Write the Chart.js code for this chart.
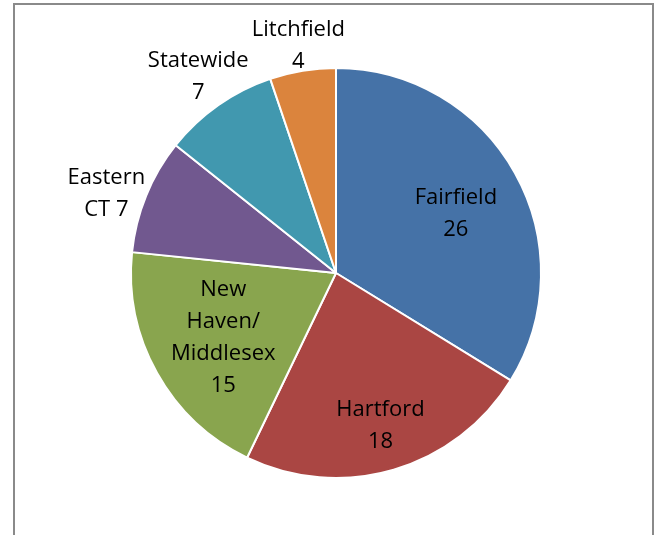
<!DOCTYPE html>
<html>
<head>
<meta charset="utf-8">
<script src="https://cdn.jsdelivr.net/npm/chart.js@4/dist/chart.umd.min.js"></script>
<style>
  html, body { margin: 0; padding: 0; background: #fff; overflow: hidden; }
  #wrap { position: relative; width: 665px; height: 535px; }
  #frame { position: absolute; left: 13px; top: 3px; width: 641px; height: 560px; border: 2px solid #8a8a8a; box-sizing: border-box; }
  canvas { position: absolute; left: 0; top: 0; }
</style>
</head>
<body>
<div id="wrap">
  <div id="frame"></div>
  <canvas id="chart" width="665" height="535"></canvas>
</div>
<script>
const regions = ['Fairfield', 'Hartford', 'New Haven/Middlesex', 'Eastern CT', 'Statewide', 'Litchfield'];
const counts = [26, 18, 15, 7, 7, 4];
const labelLines = [
  ['Fairfield', '26'],
  ['Hartford', '18'],
  ['New', 'Haven/', 'Middlesex', '15'],
  ['Eastern', 'CT 7'],
  ['Statewide', '7'],
  ['Litchfield', '4']
];
const colors = ['#4572a7', '#aa4643', '#89a54e', '#71588f', '#4198af', '#db843d'];
// label placement: share of the radius, plus a small vertical nudge in px
const labelDist = [0.67, 0.77, 0.63, 1.21, 1.17, 1.13];
const labelNudgeY = [8, 1, 2, 14, 0, 1];

const sliceLabels = {
  id: 'sliceLabels',
  afterDatasetsDraw(chart) {
    const ctx = chart.ctx;
    const meta = chart.getDatasetMeta(0);
    ctx.save();
    ctx.font = '22px "Open Sans", sans-serif';
    ctx.fillStyle = '#000';
    ctx.textAlign = 'center';
    ctx.textBaseline = 'middle';
    meta.data.forEach(function (arc, i) {
      const mid = (arc.startAngle + arc.endAngle) / 2;
      const r = arc.outerRadius * labelDist[i];
      const x = arc.x + Math.cos(mid) * r;
      const y = arc.y + Math.sin(mid) * r + labelNudgeY[i];
      const lines = labelLines[i];
      const lh = 32;
      lines.forEach(function (t, j) {
        ctx.fillText(t, x, y + (j - (lines.length - 1) / 2) * lh);
      });
    });
    ctx.restore();
  }
};

new Chart(document.getElementById('chart'), {
  type: 'pie',
  data: {
    labels: regions,
    datasets: [{
      data: counts,
      backgroundColor: colors,
      borderColor: '#fff',
      borderWidth: 2
    }]
  },
  options: {
    responsive: false,
    animation: false,
    layout: { padding: { top: 67, bottom: 56, left: 130, right: 123 } },
    plugins: {
      legend: { display: false },
      tooltip: { enabled: false }
    }
  },
  plugins: [sliceLabels]
});
</script>
</body>
</html>
